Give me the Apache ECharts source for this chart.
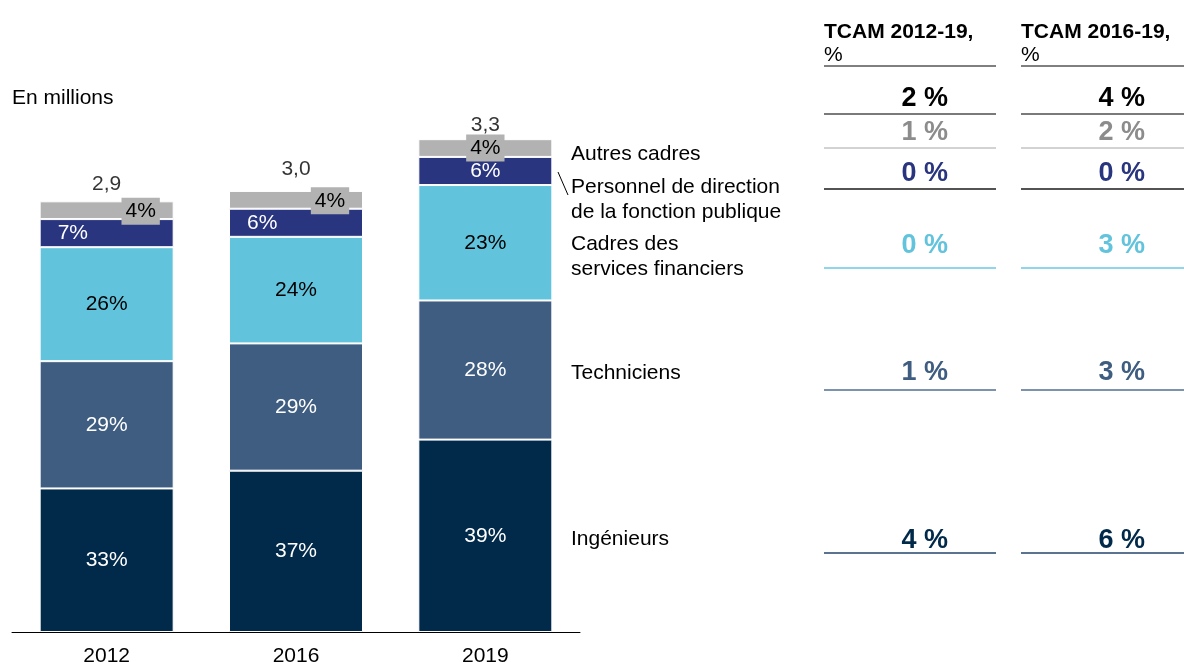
<!DOCTYPE html>
<html>
<head>
<meta charset="utf-8">
<script src="https://cdn.jsdelivr.net/npm/echarts@6/dist/echarts.min.js"></script>
<style>
  html, body { margin: 0; padding: 0; background: #fff; }
  #chart { width: 1184px; height: 662px; }
</style>
</head>
<body>
<div id="chart"></div>
<script>
// données (en millions)
var categories = ['2012', '2016', '2019'];
var ingenieurs = [0.97, 1.09, 1.30];
var techniciens = [0.86, 0.86, 0.94];
var cadresFin = [0.77, 0.72, 0.78];
var personnel = [0.19, 0.19, 0.19];
var autres = [0.12, 0.12, 0.12];
var totals = [2.9, 3.0, 3.3];

// parts affichées dans les barres
var pctIng = ['33%', '37%', '39%'];
var pctTech = ['29%', '29%', '28%'];
var pctCadres = ['26%', '24%', '23%'];
var pctPers = ['7%', '6%', '6%'];
var pctAutres = ['4%', '4%', '4%'];

// TCAM : total, autres, personnel, cadres, techniciens, ingénieurs
var tcam1219 = ['2 %', '1 %', '0 %', '0 %', '1 %', '4 %'];
var tcam1619 = ['4 %', '2 %', '0 %', '3 %', '3 %', '6 %'];

var FONT = '"Liberation Sans", Arial, sans-serif';
var colors = {
  ing: '#00294a',
  tech: '#3e5d80',
  cadres: '#62c3dc',
  pers: '#29357f',
  autres: '#b2b2b2'
};

var chart = echarts.init(document.getElementById('chart'));

function barSeries(name, values, pcts, color, textColor, extra) {
  return {
    name: name,
    type: 'bar',
    stack: 'total',
    barWidth: 134,
    data: values.map(function (v, i) {
      var item = { value: v };
      if (extra) item.label = extra(i);
      return item;
    }),
    itemStyle: { color: color, borderColor: '#fff', borderWidth: 1 },
    label: {
      show: true,
      position: 'inside',
      color: textColor,
      fontSize: 21,
      fontFamily: FONT,
      formatter: function (p) { return pcts[p.dataIndex]; }
    }
  };
}

// tableau TCAM à droite
var rowY = [99, 133, 174, 246, 373, 541];
var rowColors = ['#000000', '#8c8c8c', colors.pers, colors.cadres, colors.tech, colors.ing];
var lineY = [114, 148, 189, 268, 390, 553];
var lineColors = ['#7a7a7a', '#a6a6a6', '#1a1a1a', '#8fd6ec', '#7d93ad', '#5a7390'];
var lineWidths = [2, 1, 1.5, 2, 2, 2];
var cols = [{ x: 824, w: 172, right: 948, vals: tcam1219, title: 'TCAM 2012-19,' },
            { x: 1021, w: 163, right: 1145, vals: tcam1619, title: 'TCAM 2016-19,' }];

function txt(x, y, s, extra) {
  var style = { text: s, font: '21px ' + FONT, fill: '#000', verticalAlign: 'middle' };
  for (var k in extra) style[k] = extra[k];
  return { type: 'text', x: x, y: y, style: style };
}

var graphics = [
  txt(12, 98, 'En millions'),
  txt(571, 154, 'Autres cadres'),
  txt(571, 200, 'Personnel de direction\nde la fonction publique', { lineHeight: 25 }),
  txt(571, 257, 'Cadres des\nservices financiers', { lineHeight: 25 }),
  txt(571, 373, 'Techniciens'),
  txt(571, 539, 'Ingénieurs'),
  { type: 'line', shape: { x1: 558, y1: 172, x2: 568, y2: 195 }, style: { stroke: '#000', lineWidth: 1 } }
];

cols.forEach(function (c) {
  graphics.push(txt(c.x, 32, c.title, { font: 'bold 21px ' + FONT }));
  graphics.push(txt(c.x, 55, '%'));
  graphics.push({ type: 'line', shape: { x1: c.x, y1: 66, x2: c.x + c.w, y2: 66 }, style: { stroke: '#000', lineWidth: 1 } });
  c.vals.forEach(function (v, i) {
    graphics.push(txt(c.right, rowY[i], v, { font: 'bold 27px ' + FONT, fill: rowColors[i], align: 'right' }));
    graphics.push({ type: 'line', shape: { x1: c.x, y1: lineY[i], x2: c.x + c.w, y2: lineY[i] }, style: { stroke: lineColors[i], lineWidth: lineWidths[i] } });
  });
});

var option = {
  animation: false,
  grid: { left: 12, right: 604, top: 40, bottom: 30, outerBoundsMode: 'none' },
  xAxis: {
    type: 'category',
    data: categories,
    axisLine: { lineStyle: { color: '#000', width: 1 } },
    axisTick: { show: false },
    axisLabel: { color: '#000', fontSize: 21, fontFamily: FONT, margin: 14 }
  },
  yAxis: { type: 'value', min: 0, max: 4, show: false },
  graphic: graphics,
  series: [
    barSeries('Ingénieurs', ingenieurs, pctIng, colors.ing, '#fff'),
    barSeries('Techniciens', techniciens, pctTech, colors.tech, '#fff'),
    barSeries('Cadres des services financiers', cadresFin, pctCadres, colors.cadres, '#000'),
    barSeries('Personnel de direction de la fonction publique', personnel, pctPers, colors.pers, '#fff', function (i) {
      return i < 2 ? { position: 'insideLeft', distance: 18 } : { position: 'inside' };
    }),
    barSeries('Autres cadres', autres, pctAutres, colors.autres, '#000', function (i) {
      return {
        backgroundColor: colors.autres,
        padding: [3, 4, 3, 4],
        offset: i < 2 ? [34, 1] : [0, 0]
      };
    }),
    {
      name: 'Total',
      type: 'scatter',
      symbolSize: 0,
      data: totals,
      z: 5,
      label: {
        show: true,
        position: 'top',
        distance: 8,
        color: '#000',
        fontSize: 21,
        fontFamily: FONT,
        formatter: function (p) { return p.value.toFixed(1).replace('.', ','); }
      }
    }
  ]
};

chart.setOption(option);
</script>
</body>
</html>
